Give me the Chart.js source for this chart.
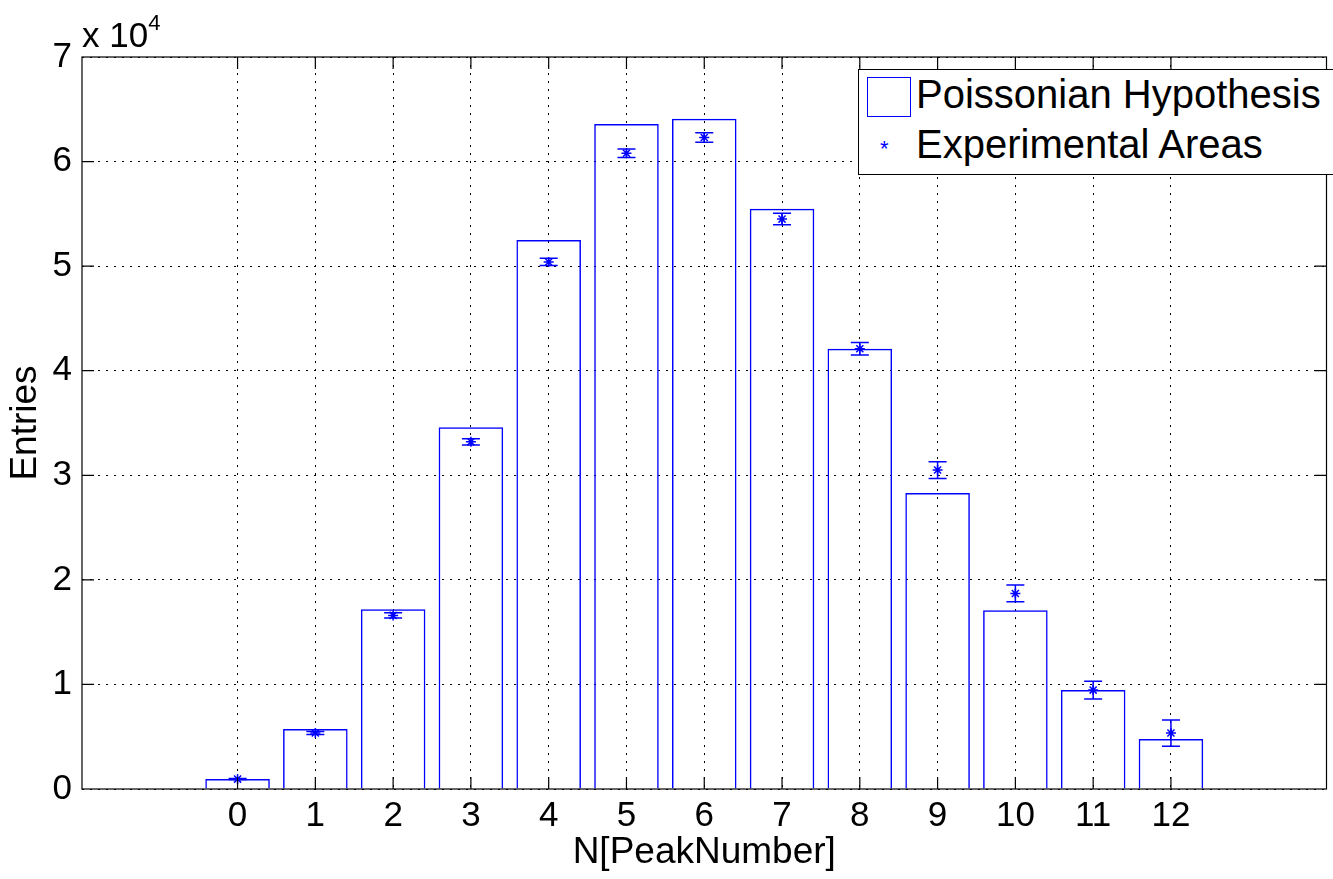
<!DOCTYPE html>
<html><head><meta charset="utf-8">
<script src="https://cdn.jsdelivr.net/npm/chart.js@4"></script>
<style>
body{margin:0;background:#fff;font-family:"Liberation Sans",Arial,sans-serif;overflow:hidden;}
#wrap{position:relative;width:1333px;height:879px;overflow:hidden;}
#exp{position:absolute;left:82px;top:14px;font-size:35px;}
#exp sup{font-size:22px;position:relative;top:-4px;}
#legend{position:absolute;left:858px;top:69px;width:480px;height:106px;border:1.5px solid #000;background:#fff;box-sizing:border-box;font-size:40px;white-space:nowrap;}
</style></head><body>
<div id="wrap">
<canvas id="c" width="1333" height="879"></canvas>
<div id="exp">x 10<sup>4</sup></div>
<div id="legend">
  <div style="position:absolute;left:8px;top:7px;width:42px;height:38px;border:1.5px solid #00f;"></div>
  <div style="position:absolute;left:57px;top:2px;">Poissonian Hypothesis</div>
  <div style="position:absolute;left:21px;top:66px;color:#00f;font-size:22px;">*</div>
  <div style="position:absolute;left:57px;top:52px;">Experimental Areas</div>
</div>
</div>
<script>
const peaks = [0,1,2,3,4,5,6,7,8,9,10,11,12];
const poisson = [950,5740,17200,34600,52500,63600,64100,55500,42100,28300,17100,9460,4780];
const experimental = [950,5350,16600,33200,50400,60800,62300,54500,42100,30500,18700,9460,5350];
const errors = [50,150,250,300,350,400,450,550,600,800,800,850,1250];

const errorBars = {
  id:'errorBars',
  afterDatasetsDraw(chart){
    const {ctx, scales:{x,y}} = chart;
    ctx.save(); ctx.strokeStyle='#00f'; ctx.lineWidth=1.5;
    peaks.forEach((p,i)=>{
      const px=x.getPixelForValue(p), t=y.getPixelForValue(experimental[i]+errors[i]), b=y.getPixelForValue(experimental[i]-errors[i]);
      ctx.beginPath();
      ctx.moveTo(px,t);ctx.lineTo(px,b);
      ctx.moveTo(px-9,t);ctx.lineTo(px+9,t);
      ctx.moveTo(px-9,b);ctx.lineTo(px+9,b);
      ctx.stroke();
    });
    const a=chart.chartArea;
    ctx.strokeStyle='#000';ctx.lineWidth=1.2;
    ctx.strokeRect(a.left,a.top,a.right-a.left,a.bottom-a.top);
    ctx.beginPath();
    peaks.forEach(p=>{const px=x.getPixelForValue(p);ctx.moveTo(px,a.bottom);ctx.lineTo(px,a.bottom-12);ctx.moveTo(px,a.top);ctx.lineTo(px,a.top+12);});
    for(let v=1e4;v<7e4;v+=1e4){const py=y.getPixelForValue(v);ctx.moveTo(a.left,py);ctx.lineTo(a.left+12,py);ctx.moveTo(a.right,py);ctx.lineTo(a.right-12,py);}
    ctx.stroke();
    ctx.restore();
  }
};

new Chart(document.getElementById('c'), {
  data:{datasets:[
    {type:'bar', label:'Poissonian Hypothesis', data:peaks.map((p,i)=>({x:p,y:poisson[i]})),
     backgroundColor:'rgba(0,0,0,0)', borderColor:'#00f', borderWidth:1.5, barPercentage:0.83, categoryPercentage:1},
    {type:'scatter', label:'Experimental Areas', data:peaks.map((p,i)=>({x:p,y:experimental[i]})),
     pointStyle:'star', radius:5, borderColor:'#00f', borderWidth:1.5}
  ]},
  options:{
    responsive:false, animation:false,
    layout:{padding:{top:57,right:-7,left:0,bottom:0}},
    plugins:{legend:{display:false},tooltip:{enabled:false}},
    scales:{
      x:{type:'linear',min:-2,max:14,offset:false,
         afterBuildTicks(s){s.ticks=peaks.map(v=>({value:v}));},
         afterFit(s){s.height=90;},
         grid:{color:'#000',lineWidth:1,drawTicks:false,offset:false},
         border:{display:false,dash:[2,6]},
         ticks:{color:'#000',font:{size:35,family:'Liberation Sans'},padding:6,autoSkip:false,maxRotation:0},
         title:{display:true,text:'N[PeakNumber]',color:'#000',font:{size:37,family:'Liberation Sans'},padding:{top:-12}}},
      y:{min:0,max:70000,
         afterFit(s){s.width=82;},
         grid:{color:'#000',lineWidth:1,drawTicks:false},
         border:{display:false,dash:[2,6]},
         ticks:{stepSize:10000,color:'#000',font:{size:35,family:'Liberation Sans'},padding:10,callback:v=>v/10000},
         title:{display:true,text:'Entries',color:'#000',font:{size:37,family:'Liberation Sans'},padding:{bottom:0}}}
    }
  },
  plugins:[errorBars]
});
</script>
</body></html>
